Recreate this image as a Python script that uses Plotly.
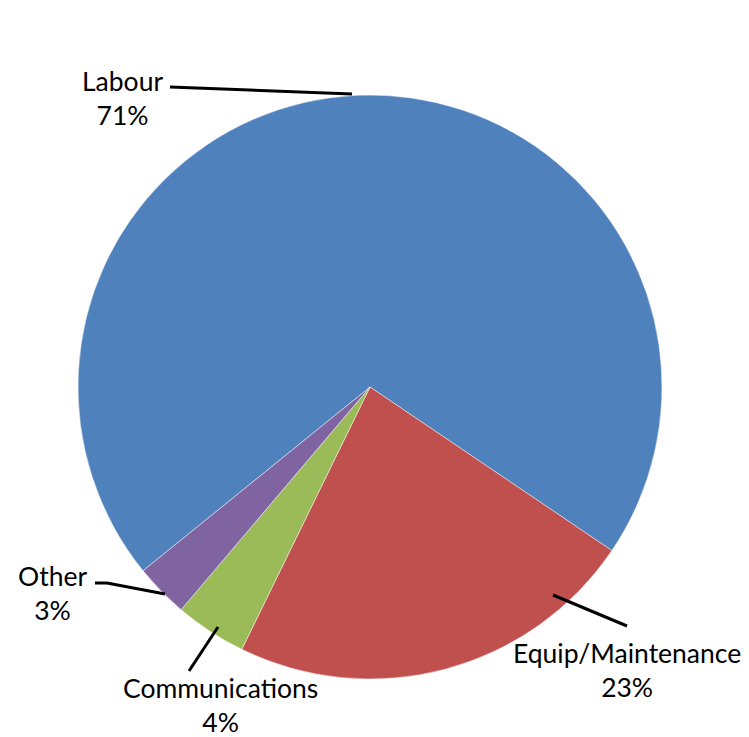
import plotly.graph_objects as go

# Cost breakdown shares (percent)
categories = ["Labour", "Equip/Maintenance", "Communications", "Other"]
shares = [71, 23, 4, 3]
colors = ["#4F81BD", "#C0504D", "#9BBB59", "#8064A2"]

W, H = 749, 737

def px(x):
    return x / W

def py(y):
    return 1 - y / H

fig = go.Figure(
    go.Pie(
        labels=categories,
        values=shares,
        sort=False,
        direction="clockwise",
        rotation=231,
        marker=dict(colors=colors, line=dict(color="rgba(255,255,255,0.45)", width=1)),
        textinfo="none",
        hoverinfo="label+value",
        showlegend=False,
        domain=dict(x=[px(78), px(662)], y=[py(680), py(94)]),
    )
)

# Data labels placed outside the pie, each with a leader line
label_pos = {
    "Labour": (122, 98),
    "Equip/Maintenance": (627, 670),
    "Communications": (220, 705),
    "Other": (52, 593),
}
leaders = {
    "Labour": [(170, 87), (352, 94)],
    "Equip/Maintenance": [(627, 626), (553, 595)],
    "Communications": [(189, 671), (218, 627)],
    "Other": [(95, 583), (107, 583), (165, 594)],
}

annotations = []
for cat, val in zip(categories, shares):
    x, y = label_pos[cat]
    annotations.append(dict(
        x=px(x), y=py(y), xref="paper", yref="paper",
        text=f"{cat}<br>{val}%", showarrow=False,
        xanchor="center", yanchor="middle", align="center",
        font=dict(family="Lato, Open Sans, sans-serif", size=26.5, color="black"),
    ))

shapes = []
for cat, pts in leaders.items():
    path = "M " + " L ".join(f"{px(a)},{py(b)}" for a, b in pts)
    shapes.append(dict(type="path", xref="paper", yref="paper", path=path,
                       line=dict(color="black", width=3)))

fig.update_layout(
    width=W, height=H,
    margin=dict(l=0, r=0, t=0, b=0),
    paper_bgcolor="white", plot_bgcolor="white",
    annotations=annotations,
    shapes=shapes,
)

fig.write_html("out.html")
